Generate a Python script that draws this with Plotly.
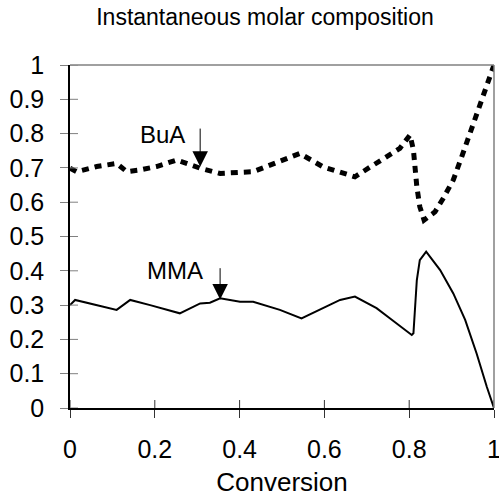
import plotly.graph_objects as go

# conversion / instantaneous molar composition
bua_x = [0, 0.016, 0.063, 0.11, 0.134, 0.165, 0.204, 0.252, 0.307, 0.354, 0.432,
         0.495, 0.542, 0.597, 0.672, 0.715, 0.778, 0.802, 0.81, 0.818, 0.825,
         0.835, 0.861, 0.880, 0.904, 0.924, 0.943, 0.97, 1.0]
bua_y = [0.699, 0.689, 0.704, 0.713, 0.689, 0.694, 0.704, 0.723, 0.699, 0.684, 0.689,
         0.718, 0.742, 0.703, 0.674, 0.708, 0.757, 0.796, 0.752, 0.645, 0.587,
         0.548, 0.572, 0.611, 0.665, 0.733, 0.801, 0.9, 1.0]

mma_x = [0, 0.012, 0.11, 0.142, 0.189, 0.259, 0.307, 0.330, 0.354, 0.401, 0.432,
         0.495, 0.546, 0.597, 0.637, 0.672, 0.723, 0.755, 0.806, 0.81, 0.818,
         0.825, 0.840, 0.873, 0.904, 0.932, 0.959, 0.983, 1.0]
mma_y = [0.300, 0.315, 0.286, 0.315, 0.300, 0.276, 0.305, 0.307, 0.320, 0.310, 0.310,
         0.286, 0.261, 0.291, 0.315, 0.325, 0.291, 0.261, 0.213, 0.218, 0.373,
         0.431, 0.456, 0.402, 0.334, 0.257, 0.159, 0.062, 0.0]

x_ticks = [0, 0.2, 0.4, 0.6, 0.8, 1]
x_labels = ["0", "0.2", "0.4", "0.6", "0.8", "1"]
y_ticks = [0, 0.1, 0.2, 0.3, 0.4, 0.5, 0.6, 0.7, 0.8, 0.9, 1]
y_labels = ["0", "0.1", "0.2", "0.3", "0.4", "0.5", "0.6", "0.7", "0.8", "0.9", "1"]

# labels with their arrows: (text, text x, text y, arrow x, tail y, tip y)
labels = [
    ("BuA", 0.217, 0.796, 0.307, 0.819, 0.703),
    ("MMA", 0.248, 0.402, 0.354, 0.412, 0.316),
]

FONT = "Liberation Sans, Arial, sans-serif"
TICK_LEN = 8

fig = go.Figure()
fig.add_trace(go.Scatter(x=bua_x, y=bua_y, mode="lines", name="BuA",
                         line=dict(color="black", width=5, dash="7px,6px")))
fig.add_trace(go.Scatter(x=mma_x, y=mma_y, mode="lines", name="MMA",
                         line=dict(color="black", width=2)))

for text, tx, ty, axx, tail, tip in labels:
    fig.add_annotation(x=tx, y=ty, text=text, showarrow=False,
                       font=dict(size=24, color="black"))
    fig.add_annotation(x=axx, y=tip, ax=axx, ay=tail, axref="x", ayref="y",
                       text="", showarrow=True, arrowhead=2, arrowsize=3.1,
                       arrowwidth=1, arrowcolor="black")

# inner half of the crossing tick marks (outer half comes from the axes)
shapes = []
for t in x_ticks:
    shapes.append(dict(type="line", xref="x", yref="y", ysizemode="pixel",
                       yanchor=0, x0=t, x1=t, y0=0, y1=TICK_LEN,
                       line=dict(color="#333333", width=1)))
for t in y_ticks:
    shapes.append(dict(type="line", xref="x", yref="y", xsizemode="pixel",
                       xanchor=0, y0=t, y1=t, x0=0, x1=TICK_LEN,
                       line=dict(color="#808080", width=1)))
# grey frame on top and right
shapes.append(dict(type="line", xref="paper", yref="paper", x0=0, x1=1, y0=1, y1=1,
                   line=dict(color="#808080", width=1.5)))
shapes.append(dict(type="line", xref="paper", yref="paper", x0=1, x1=1, y0=0, y1=1,
                   line=dict(color="#808080", width=1.5)))

fig.update_layout(
    width=499, height=497,
    margin=dict(l=70, r=5, t=65, b=89),
    paper_bgcolor="white", plot_bgcolor="white",
    showlegend=False,
    font=dict(family=FONT, color="black", size=25),
    title=dict(text="Instantaneous molar composition", x=0.531, xanchor="center",
               y=0.966, yanchor="middle", font=dict(size=23)),
    xaxis=dict(range=[0, 1], tickvals=x_ticks, ticktext=x_labels,
               showgrid=False, zeroline=False, showline=True, linecolor="black",
               linewidth=1.5, ticks="outside", ticklen=TICK_LEN, tickcolor="#333333",
               ticklabelstandoff=10, ticklabeloverflow="allow", automargin=False,
               title=dict(text="Conversion", font=dict(size=26), standoff=13)),
    yaxis=dict(range=[0, 1], tickvals=y_ticks, ticktext=y_labels,
               showgrid=False, zeroline=False, showline=True, linecolor="black",
               linewidth=1.5, ticks="outside", ticklen=TICK_LEN, tickcolor="#808080",
               ticklabelstandoff=11, ticklabeloverflow="allow", automargin=False),
    shapes=shapes,
)

# the page's default body margin would push the figure 8px off the window
fig.write_html("out.html", config={"displayModeBar": False},
               post_script="document.body.style.margin='0';")
